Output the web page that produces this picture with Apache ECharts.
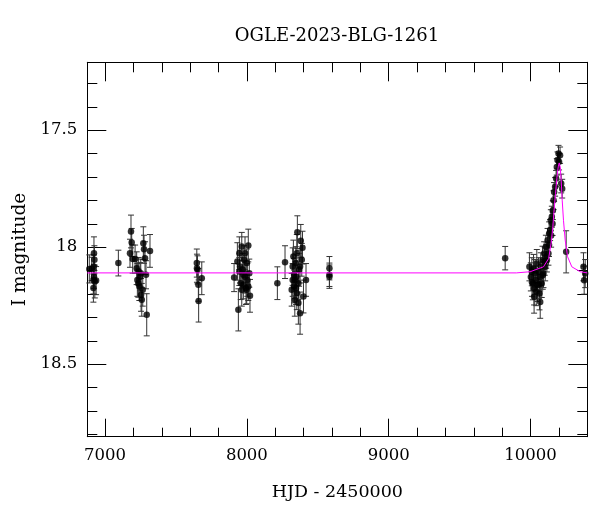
<!DOCTYPE html>
<html>
<head>
<meta charset="utf-8">
<script src="https://cdn.jsdelivr.net/npm/echarts@6/dist/echarts.min.js"></script>
<style>html,body{margin:0;padding:0;background:#fff}#c{width:600px;height:512px}</style>
</head>
<body>
<div id="c"></div>
<script>
// Observations: HJD-2450000, I magnitude, error
const obsT = [
  6889,6906,6922,6925,6920,6918,6928,6937,6918,6922,
  7094,
  7176,7183,7188,7195,7212,7223,7228,7235,7242,7247,7254,7259,7266,7270,7275,7282,7289,7294,7317,7252,7237,
  7647,7652,7658,7660,7682,7648,
  7910,7933,7940,7947,7952,7957,7964,7971,7975,7980,7987,7994,7999,8003,8010,8017,8022,7964,7975,7947,7999,7987,8010,
  8215,8269,
  8316,8323,8328,8333,8338,8340,8345,8347,8352,8356,8363,8368,8375,8380,8387,8392,8399,8417,8323,8333,8347,8363,8375,8352,
  8582,8582,8582,
  9821,
  9992,10002,10009,10016,10021,10025,10032,10037,10044,10049,10056,10063,10068,10072,10079,10084,10091,10096,10103,10108,
  10115,10120,10126,10131,10138,10143,10150,10157,10162,10166,10173,10180,10185,10190,10197,10201,10208,10216,10223,
  10025,10068,10010,10040,10060,10086,10100,10110,10130,10145,10155,
  10251,10373,10385,10378
];
const obsMag = [
  18.093,18.093,18.026,18.054,18.083,18.140,18.147,18.143,18.175,18.126,
  18.068,
  18.026,17.933,17.980,18.051,18.051,18.090,18.140,18.154,18.168,18.126,18.204,18.225,18.182,17.983,18.009,18.047,18.118,18.289,18.016,18.111,18.104,
  18.068,18.097,18.161,18.230,18.133,18.090,
  18.130,18.061,18.268,18.026,18.083,18.154,17.997,18.097,18.161,18.054,18.126,18.175,18.068,18.140,17.993,18.111,18.208,18.182,18.118,18.104,18.182,18.026,18.168,
  18.154,18.064,
  18.182,18.083,18.040,18.168,18.225,18.140,18.068,18.126,18.026,17.936,18.239,18.097,18.282,17.973,18.054,18.002,18.211,18.140,18.140,18.118,18.175,18.154,18.083,18.197,
  18.090,18.118,18.126,
  18.047,
  18.084,18.127,18.105,18.155,18.091,18.177,18.113,18.141,18.070,18.162,18.105,18.198,18.127,18.084,18.155,18.056,18.113,18.027,18.084,17.999,
  18.056,17.970,18.027,17.942,17.927,17.885,17.870,17.842,17.799,17.764,17.742,17.707,17.657,17.628,17.600,17.635,17.607,17.728,17.750,
  18.212,18.234,18.150,18.190,18.160,18.120,18.060,18.040,17.990,17.950,17.900,
  18.020,18.084,18.113,18.141
];
const obsErr = [
  0.06,0.05,0.07,0.06,0.05,0.06,0.07,0.06,0.06,0.05,
  0.055,
  0.06,0.07,0.06,0.06,0.06,0.07,0.07,0.06,0.06,0.06,0.07,0.07,0.07,0.07,0.06,0.07,0.06,0.09,0.07,0.06,0.06,
  0.06,0.06,0.07,0.09,0.07,0.06,
  0.06,0.08,0.09,0.07,0.07,0.07,0.06,0.07,0.06,0.06,0.07,0.07,0.06,0.07,0.07,0.06,0.07,0.07,0.06,0.06,0.06,0.07,0.06,
  0.07,0.07,
  0.07,0.08,0.07,0.07,0.07,0.08,0.07,0.08,0.08,0.07,0.09,0.07,0.09,0.07,0.07,0.07,0.07,0.07,0.07,0.07,0.07,0.07,0.07,0.07,
  0.05,0.05,0.05,
  0.05,
  0.06,0.06,0.06,0.07,0.06,0.07,0.06,0.06,0.06,0.07,0.06,0.07,0.06,0.06,0.06,0.06,0.06,0.05,0.06,0.05,
  0.05,0.05,0.05,0.05,0.045,0.045,0.045,0.04,0.04,0.04,0.04,0.035,0.035,0.035,0.035,0.035,0.035,0.04,0.04,
  0.07,0.07,0.06,0.06,0.06,0.06,0.06,0.05,0.05,0.05,0.05,
  0.09,0.06,0.06,0.06
];
// Model curve
const modelT = [6875,9900,9997,10091,10127,10145,10157,10166,10176,10185,10195,10202,10209,10216,10223,10232,10244,10261,10291,10350,10400];
const modelMag = [18.11,18.11,18.105,18.084,18.049,17.984,17.913,17.842,17.771,17.707,17.657,17.640,17.657,17.714,17.799,17.885,17.970,18.041,18.084,18.105,18.11];
// Axis ticks
const xMajor = [7000,8000,9000,10000];
const xMinor = [7200,7400,7600,7800,8200,8400,8600,8800,9200,9400,9600,9800,10200,10400];
const yMajor = [17.5,18,18.5];
const yMinor = [17.3,17.4,17.6,17.7,17.8,17.9,18.1,18.2,18.3,18.4,18.6,18.7,18.8];

const FONT = 'DejaVu Serif';
const X0 = 6875, X1 = 10400, Y0 = 17.21, Y1 = 18.81;

function xAx(pos, ticks, len, labels, line) {
  return {
    type: 'value', position: pos, min: X0, max: X1,
    axisLine: {show: line, lineStyle: {color: '#000', width: 1}},
    axisTick: {show: true, inside: true, length: len, customValues: ticks, lineStyle: {color: '#000', width: 1}},
    axisLabel: {show: labels, customValues: ticks, fontFamily: FONT, fontSize: 16.5, color: '#000', margin: 11,
      formatter: v => String(v)},
    splitLine: {show: false},
    name: labels ? 'HJD - 2450000' : '', nameLocation: 'middle', nameGap: 47,
    nameTextStyle: {fontFamily: FONT, fontSize: 17.5, color: '#000'}
  };
}
function yAx(pos, ticks, len, labels, line) {
  return {
    type: 'value', position: pos, min: Y0, max: Y1, inverse: true,
    axisLine: {show: line, lineStyle: {color: '#000', width: 1}},
    axisTick: {show: true, inside: true, length: len, customValues: ticks, lineStyle: {color: '#000', width: 1}},
    axisLabel: {show: labels, customValues: ticks, fontFamily: FONT, fontSize: 16.5, color: '#000', margin: 10,
      formatter: v => String(v)},
    splitLine: {show: false},
    name: labels ? 'I magnitude' : '', nameLocation: 'middle', nameGap: 55, nameRotate: 90,
    nameTextStyle: {fontFamily: FONT, fontSize: 18.5, color: '#000'}
  };
}

const obsData = obsT.map((t, i) => [t, obsMag[i], obsErr[i]]);
const modelData = modelT.map((t, i) => [t, modelMag[i]]);

const chart = echarts.init(document.getElementById('c'), null, {renderer: 'canvas'});
chart.setOption({
  animation: false,
  backgroundColor: '#fff',
  grid: {left: 87.3, right: 12.7, top: 62.3, bottom: 75.3, containLabel: false},
  graphic: [{
    type: 'text', x: 337, y: 36,
    style: {text: 'OGLE-2023-BLG-1261', textAlign: 'center', textVerticalAlign: 'middle',
      fontFamily: FONT, fontSize: 18, fill: '#000'}
  }],
  xAxis: [
    xAx('bottom', xMajor, 18, true, true),
    xAx('bottom', xMinor, 9, false, false),
    xAx('top', xMajor, 19, false, true),
    xAx('top', xMinor, 10, false, false)
  ],
  yAxis: [
    yAx('left', yMajor, 19, true, true),
    yAx('left', yMinor, 10, false, false),
    yAx('right', yMajor, 19, false, true),
    yAx('right', yMinor, 10, false, false)
  ],
  series: [
    {
      type: 'custom', xAxisIndex: 0, yAxisIndex: 0, z: 2,
      data: obsData,
      renderItem: function (params, api) {
        const x = api.value(0), y = api.value(1), e = api.value(2);
        const top = api.coord([x, y - e]);
        const bot = api.coord([x, y + e]);
        const hw = 3;
        const st = {stroke: '#333', lineWidth: 1};
        return {
          type: 'group',
          children: [
            {type: 'line', shape: {x1: top[0], y1: top[1], x2: bot[0], y2: bot[1]}, style: st},
            {type: 'line', shape: {x1: top[0] - hw, y1: top[1], x2: top[0] + hw, y2: top[1]}, style: st},
            {type: 'line', shape: {x1: bot[0] - hw, y1: bot[1], x2: bot[0] + hw, y2: bot[1]}, style: st}
          ]
        };
      },
      encode: {x: 0, y: 1},
      silent: true
    },
    {
      type: 'scatter', xAxisIndex: 0, yAxisIndex: 0, z: 3,
      data: obsData.map(d => [d[0], d[1]]),
      symbol: 'circle', symbolSize: 6.5,
      itemStyle: {color: '#000'},
      silent: true
    },
    {
      type: 'line', xAxisIndex: 0, yAxisIndex: 0, z: 4,
      data: modelData, showSymbol: false, symbol: 'none', smooth: false,
      lineStyle: {color: '#ff00ff', width: 1},
      silent: true
    }
  ]
});
</script>
</body>
</html>
